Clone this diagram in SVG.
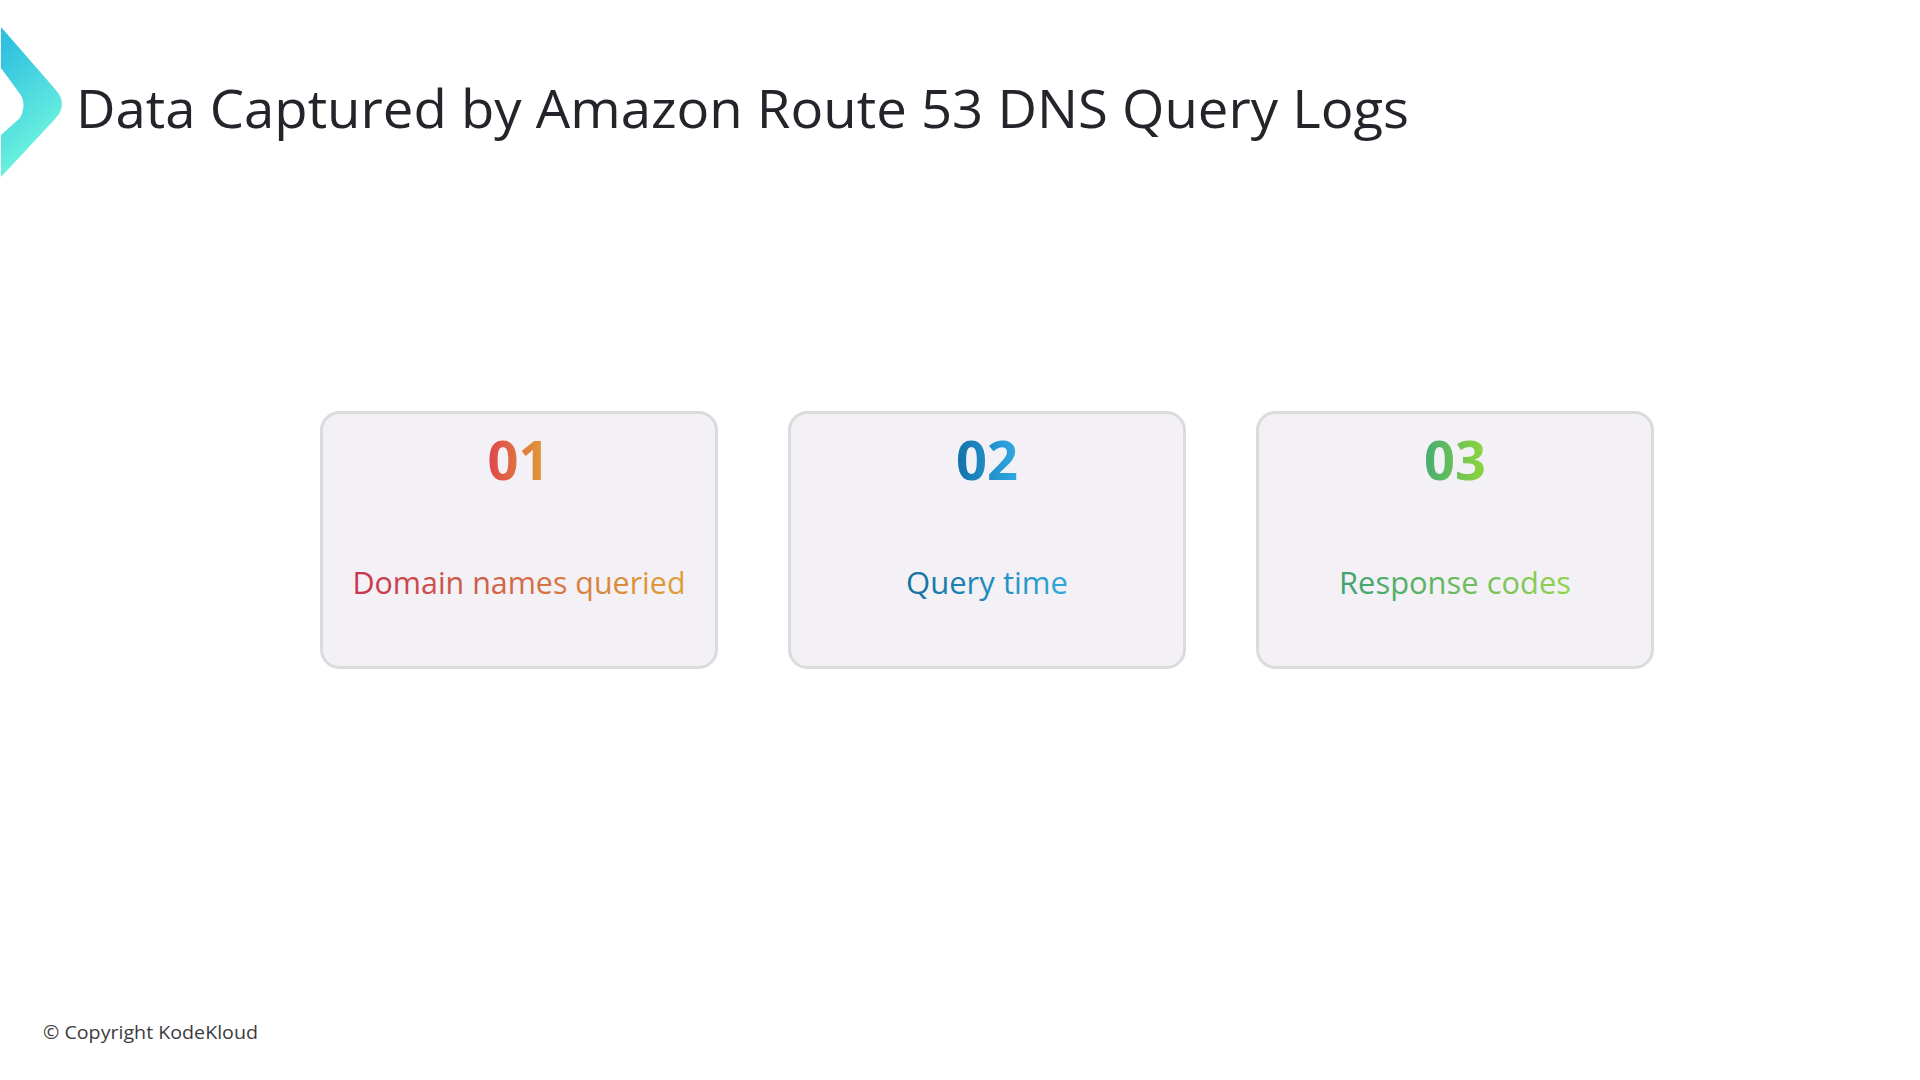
<svg xmlns="http://www.w3.org/2000/svg" width="1920" height="1080" viewBox="0 0 1920 1080">
<style>
.card{fill:#f3f1f5;stroke:#dbdadd;stroke-width:3}
.num{font-family:"Open Sans","Noto Sans",sans-serif;font-weight:700;font-size:53px;text-anchor:middle}
.lbl{font-family:"Open Sans","Noto Sans",sans-serif;font-size:31px;text-anchor:middle}
</style>
<defs>
<linearGradient id="chev" gradientUnits="userSpaceOnUse" x1="0" y1="50" x2="62" y2="120"><stop offset="0" stop-color="#2fc1e0"/><stop offset="1" stop-color="#68efdf"/></linearGradient>
<linearGradient id="n1" gradientUnits="userSpaceOnUse" x1="489" y1="0" x2="544" y2="0"><stop offset="0" stop-color="#e0474a"/><stop offset="1" stop-color="#e09a37"/></linearGradient>
<linearGradient id="l1" gradientUnits="userSpaceOnUse" x1="353" y1="0" x2="685" y2="0"><stop offset="0" stop-color="#c5354f"/><stop offset="1" stop-color="#e0a03a"/></linearGradient>
<linearGradient id="n2" gradientUnits="userSpaceOnUse" x1="956" y1="0" x2="1018" y2="0"><stop offset="0" stop-color="#1272a8"/><stop offset="1" stop-color="#2fa9e6"/></linearGradient>
<linearGradient id="l2" gradientUnits="userSpaceOnUse" x1="907" y1="0" x2="1068" y2="0"><stop offset="0" stop-color="#14709f"/><stop offset="1" stop-color="#2fa8d8"/></linearGradient>
<linearGradient id="n3" gradientUnits="userSpaceOnUse" x1="1425" y1="0" x2="1485" y2="0"><stop offset="0" stop-color="#47ad72"/><stop offset="1" stop-color="#8fd63c"/></linearGradient>
<linearGradient id="l3" gradientUnits="userSpaceOnUse" x1="1340" y1="0" x2="1572" y2="0"><stop offset="0" stop-color="#3fa173"/><stop offset="1" stop-color="#93d44d"/></linearGradient>
</defs>
<rect width="1920" height="1080" fill="#ffffff"/>
<g id="logo"><path d="M1 27 L55 89 Q69 104 55 119 L1 177 L1 135 L20 118 Q27 104 20 94 L1 68 Z" fill="url(#chev)"/></g>
<text id="title" x="76" y="128" font-family="'Open Sans','Noto Sans',sans-serif" font-size="53" fill="#24242a" textLength="1333" lengthAdjust="spacingAndGlyphs">Data Captured by Amazon Route 53 DNS Query Logs</text>
<g id="card1"><rect class="card" x="321.500" y="412.500" width="395" height="255" rx="18"/>
<text class="num" x="518.500" y="480" fill="url(#n1)" textLength="62" lengthAdjust="spacingAndGlyphs">01</text>
<text class="lbl" x="519" y="594" fill="url(#l1)" textLength="333" lengthAdjust="spacingAndGlyphs">Domain names queried</text></g>
<g id="card2"><rect class="card" x="789.500" y="412.500" width="395" height="255" rx="18"/>
<text class="num" x="987" y="480" fill="url(#n2)" textLength="62" lengthAdjust="spacingAndGlyphs">02</text>
<text class="lbl" x="987" y="594" fill="url(#l2)" textLength="162" lengthAdjust="spacingAndGlyphs">Query time</text></g>
<g id="card3"><rect class="card" x="1257.500" y="412.500" width="395" height="255" rx="18"/>
<text class="num" x="1455" y="480" fill="url(#n3)" textLength="62" lengthAdjust="spacingAndGlyphs">03</text>
<text class="lbl" x="1455" y="594" fill="url(#l3)" textLength="232" lengthAdjust="spacingAndGlyphs">Response codes</text></g>
<text id="copyright" x="43" y="1039" font-family="'Open Sans','Noto Sans',sans-serif" font-size="19" fill="#3c3c42" textLength="215" lengthAdjust="spacingAndGlyphs">© Copyright KodeKloud</text>
</svg>
